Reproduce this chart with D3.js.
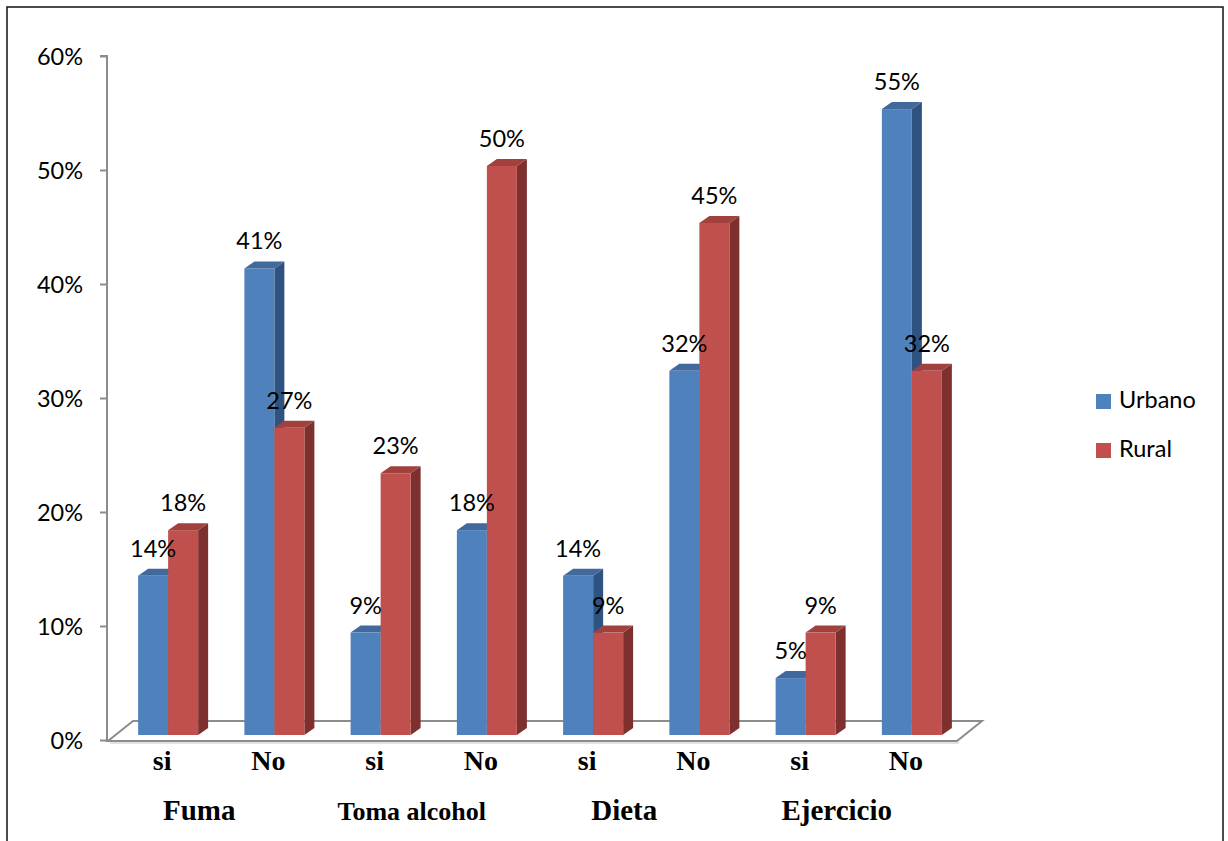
<!DOCTYPE html>
<html>
<head>
<meta charset="utf-8">
<script src="https://cdn.jsdelivr.net/npm/d3@7"></script>
<style>
  html, body { margin: 0; padding: 0; background: #fff; }
  svg { display: block; }
  .num { font-family: Lato, "Open Sans", sans-serif; font-size: 23.5px; fill: #000; }
  .cat { font-family: "Liberation Serif", "DejaVu Serif", serif; font-weight: bold; fill: #000; }
</style>
</head>
<body>
<svg id="chart" width="1228" height="841"></svg>
<script>
// Hábitos por zona: porcentaje de respuestas "si" / "No"
const groups = ["Fuma", "Toma alcohol", "Dieta", "Ejercicio"];
const answers = ["si", "No"];
const seriesNames = ["Urbano", "Rural"];
const urbano = [14, 41, 9, 18, 14, 32, 5, 55];
const rural  = [18, 27, 23, 50, 9, 45, 9, 32];
const yTicks = [0, 10, 20, 30, 40, 50, 60];

const W = 1228, H = 841;
const svg = d3.select("#chart");

// frame
svg.append("rect")
  .attr("x", 7).attr("y", 7).attr("width", 1216).attr("height", H)
  .attr("fill", "none").attr("stroke", "#111").attr("stroke-width", 1.5);

// one slot per (group, answer)
const slots = [];
groups.forEach((g, gi) => answers.forEach((a, ai) => {
  const i = gi * answers.length + ai;
  slots.push({ key: g + "|" + a, group: g, answer: a, values: [urbano[i], rural[i]] });
}));

const x = d3.scaleBand().domain(slots.map(d => d.key)).range([115, 965]).padding(0);
const y = d3.scaleLinear().domain([0, 60]).range([740, 56]);     // axis (back wall)
const yF = d3.scaleLinear().domain([0, 60]).range([735, 52.2]);  // bar front plane

const depthX = 10, depthY = -7;   // bar depth
const barW = 30;
const floorDX = 25, floorDY = -20;

const colors = [
  { front: "#4F81BD", top: "#41699C", side: "#2F5381" },
  { front: "#C0504D", top: "#A0413E", side: "#7E302E" }
];

// floor
const fx0 = 108, fx1 = 957, fy = y(0) + 1;
svg.append("path")
  .attr("d", `M${fx0},${fy} L${fx1},${fy} L${fx1 + floorDX},${fy + floorDY} L${fx0 + floorDX},${fy + floorDY} Z`)
  .attr("fill", "#fff").attr("stroke", "#8c8c8c").attr("stroke-width", 2);
// faint shadow under front edge of the floor
svg.append("line")
  .attr("x1", fx0 + 2).attr("x2", fx1 + 2).attr("y1", fy + 2).attr("y2", fy + 2)
  .attr("stroke", "#d9d9d9").attr("stroke-width", 1.5);

// value axis
const axis = d3.axisLeft(y).tickValues(yTicks).tickSize(7).tickPadding(17)
  .tickFormat(d => d + "%");
const gAxis = svg.append("g").attr("transform", "translate(107,0)").call(axis);
gAxis.select(".domain").attr("stroke", "#8c8c8c").attr("stroke-width", 2)
  .attr("d", `M-7,${y(60)}H0V${y(0) + 1}`);
gAxis.selectAll(".tick line").attr("stroke", "#8c8c8c").attr("stroke-width", 2);
gAxis.selectAll(".tick text").attr("class", "num").attr("dy", "0.36em");

// bars, drawn left to right so each front face covers the neighbour's side
const bars = svg.append("g");
slots.forEach(s => {
  const cx = x(s.key) + x.bandwidth() / 2;
  s.values.forEach((v, si) => {
    const x0 = cx - barW + si * barW, x1 = x0 + barW;
    const yb = yF(0), yt = yF(v);
    const c = colors[si];
    const g = bars.append("g");
    // side
    g.append("path")
      .attr("d", `M${x1},${yt} L${x1 + depthX},${yt + depthY} L${x1 + depthX},${yb + depthY} L${x1},${yb} Z`)
      .attr("fill", c.side);
    // top
    g.append("path")
      .attr("d", `M${x0},${yt} L${x0 + depthX},${yt + depthY} L${x1 + depthX},${yt + depthY} L${x1},${yt} Z`)
      .attr("fill", c.top);
    // front
    g.append("rect")
      .attr("x", x0).attr("y", yt).attr("width", barW).attr("height", yb - yt)
      .attr("fill", c.front);
  });
});

// value labels
slots.forEach(s => {
  const cx = x(s.key) + x.bandwidth() / 2;
  s.values.forEach((v, si) => {
    svg.append("text").attr("class", "num")
      .attr("x", cx - barW / 2 + si * barW)
      .attr("y", yF(v) - 19)
      .attr("text-anchor", "middle")
      .text(v + "%");
  });
});

// answer labels
svg.append("g").selectAll("text").data(slots).join("text")
  .attr("class", "cat").style("font-size", "28px")
  .attr("x", d => x(d.key) + x.bandwidth() / 2 - 6)
  .attr("y", y(0) + 30)
  .attr("text-anchor", "middle")
  .text(d => d.answer);

// group labels
groups.forEach((g, gi) => {
  const a = slots[gi * 2], b = slots[gi * 2 + 1];
  const mid = (x(a.key) + x(b.key)) / 2 + x.bandwidth() / 2;
  svg.append("text").attr("class", "cat")
    .style("font-size", g.length > 10 ? "26px" : "29px")
    .attr("x", mid - 22)
    .attr("y", y(0) + 80)
    .attr("text-anchor", "middle")
    .text(g);
});

// legend
const legend = svg.append("g").attr("transform", "translate(1096,394)");
seriesNames.forEach((n, i) => {
  const row = legend.append("g").attr("transform", `translate(0,${i * 49})`);
  row.append("rect").attr("width", 15).attr("height", 15).attr("fill", colors[i].front);
  row.append("text").attr("class", "num").attr("x", 23).attr("y", 14).text(n);
});
</script>
</body>
</html>
